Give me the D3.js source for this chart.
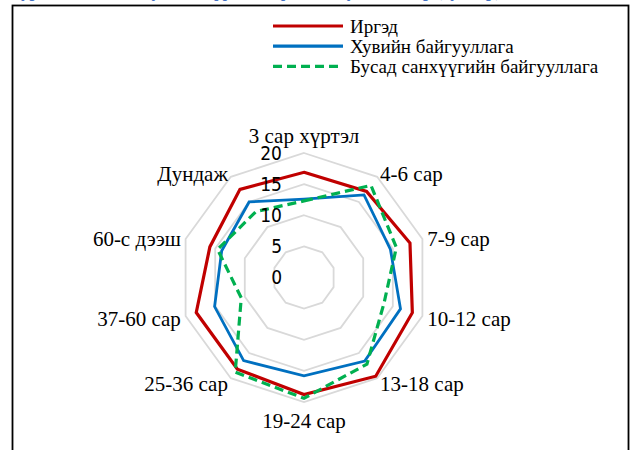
<html>
    <head>
        <style>
            body {
              margin: 0;
              background: white;
            }
        </style>
        <script src="https://d3js.org/d3.v7.min.js"></script>
    </head>
    <body>
        <script>
            // categories go clockwise from the top
            const categories = ["3 сар хүртэл", "4-6 сар", "7-9 сар", "10-12 сар", "13-18 сар",
                "19-24 сар", "25-36 сар", "37-60 сар", "60-с дээш", "Дундаж"];
            const seriesNames = ["Иргэд", "Хувийн байгууллага", "Бусад санхүүгийн байгууллага"];
            const citizens = [16.9, 17.1, 17.9, 18.3, 19.6, 18.8, 18.2, 18.2, 15.9, 17.5];
            const privateOrgs = [12.6, 16.4, 14.6, 16.3, 16.6, 15.8, 16.5, 15.1, 13.9, 15.0];
            const otherFinancial = [12.3, 18.3, 15.6, 13.5, 17.2, 19.4, 18.8, 10.6, 14.6, 13.1];
            const ticks = [0, 5, 10, 15, 20];

            const w = 635;
            const h = 450;
            const cx = 304;
            const cy = 277.5;
            const R = 124.5;
            const serif = "'Liberation Serif', 'Times New Roman', Tinos, serif";

            const series = [
                {name: seriesNames[0], values: citizens, color: "#c00000", dash: null, width: 3.2},
                {name: seriesNames[1], values: privateOrgs, color: "#0070c0", dash: null, width: 2.8},
                {name: seriesNames[2], values: otherFinancial, color: "#00b050", dash: "9,5", width: 3.2}
            ];

            const rScale = d3.scaleLinear()
                            .domain([0, 20])
                            .range([0, R]);
            const angle = d3.scalePoint()
                            .domain(categories)
                            .range([0, 2 * Math.PI * (categories.length - 1) / categories.length]);

            const svg = d3.select("body")
                .append("svg")
                .attr("width", w)
                .attr("height", h);

            // caption of the figure, cut off by the top of the page
            svg.append("text")
                .attr("x", 12)
                .attr("y", -3.5)
                .attr("fill", "#4472c4")
                .attr("font-weight", "bold")
                .attr("font-size", 17)
                .style("font-family", serif)
                .text("Зураг 3. Зээлийн дундаж хүүгийн түвшин, хугацаагаар (хувиар)");

            // frame, its bottom edge runs off the page
            svg.append("rect")
                .attr("x", 12.5)
                .attr("y", 5.5)
                .attr("width", 616)
                .attr("height", 470)
                .attr("fill", "none")
                .attr("stroke", "black")
                .attr("stroke-width", 1.8);

            const chart = svg.append("g")
                .attr("transform", "translate(" + cx + "," + cy + ")");

            const radial = d3.lineRadial()
                            .angle(d => angle(d.cat))
                            .radius(d => rScale(d.v))
                            .curve(d3.curveLinearClosed);

            // grid rings
            chart.selectAll(".ring")
                .data(ticks.filter(t => t > 0))
                .enter()
                .append("path")
                .attr("class", "ring")
                .attr("d", t => radial(categories.map(c => ({cat: c, v: t}))))
                .attr("fill", "none")
                .attr("stroke", "#d9d9d9")
                .attr("stroke-width", 1.8);

            // series
            chart.selectAll(".series")
                .data(series)
                .enter()
                .append("path")
                .attr("class", "series")
                .attr("d", s => radial(categories.map((c, i) => ({cat: c, v: s.values[i]}))))
                .attr("fill", "none")
                .attr("stroke", s => s.color)
                .attr("stroke-width", s => s.width)
                .attr("stroke-dasharray", s => s.dash)
                .attr("stroke-linejoin", "miter");

            // value labels
            chart.selectAll(".tick")
                .data(ticks)
                .enter()
                .append("text")
                .attr("class", "tick")
                .attr("x", -22)
                .attr("y", t => -rScale(t))
                .attr("dy", "0.36em")
                .attr("text-anchor", "end")
                .attr("font-size", 19)
                .style("font-family", "'Liberation Sans Narrow', 'Arial Narrow', 'DejaVu Sans Condensed', sans-serif")
                .text(t => t);

            // category labels
            chart.selectAll(".cat")
                .data(categories)
                .enter()
                .append("text")
                .attr("class", "cat")
                .attr("font-size", 21)
                .style("font-family", serif)
                .attr("x", c => (R + 5) * Math.sin(angle(c)))
                .attr("y", c => {
                    const a = angle(c);
                    const y = -(R + 5) * Math.cos(a);
                    if (Math.abs(Math.sin(a)) < 0.1) return Math.cos(a) > 0 ? y - 5 : y + 21;
                    return y + 8.5;
                })
                .attr("text-anchor", c => {
                    const s = Math.sin(angle(c));
                    return Math.abs(s) < 0.1 ? "middle" : (s > 0 ? "start" : "end");
                })
                .text(c => c);

            // legend
            const legend = svg.append("g")
                            .attr("class", "legend")
                            .attr("transform", "translate(273, 26)");
            const rows = legend.selectAll("g")
                .data(series)
                .enter()
                .append("g")
                .attr("transform", (d, i) => "translate(0," + (i * 20.2) + ")");
            rows.append("line")
                .attr("x1", 0)
                .attr("x2", 70)
                .attr("stroke", d => d.color)
                .attr("stroke-width", 3.2)
                .attr("stroke-dasharray", d => d.dash);
            rows.append("text")
                .attr("x", 77)
                .attr("y", 6.5)
                .attr("font-size", 19)
                .style("font-family", serif)
                .text(d => d.name);
        </script>
    </body>
</html>
